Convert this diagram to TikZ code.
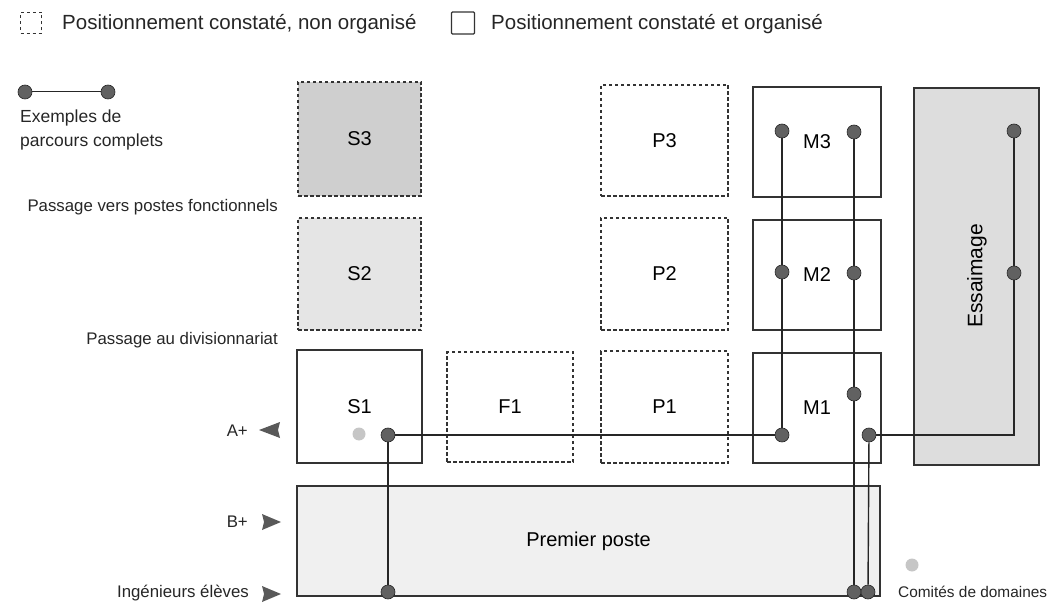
\documentclass[tikz,border=0pt]{standalone}
\usepackage{fontspec}
\setmainfont{Liberation Sans}
\begin{document}
\begin{tikzpicture}[x=1pt,y=-1pt,
  boxsolid/.style={draw=black!80, line width=1.1pt, inner sep=0pt, font=\fontsize{20}{24}\selectfont},
  boxdash/.style={boxsolid, dash pattern=on 3.5pt off 2.5pt},
  dot/.style={circle, draw=black!85, line width=0.6pt, fill=black!62, minimum size=14pt, inner sep=0pt},
  ldot/.style={circle, fill=gray!45, minimum size=13pt, inner sep=0pt},
  path/.style={draw=black!85, line width=1.4pt},
  lbl/.style={inner sep=0pt, font=\fontsize{16.8}{20}\selectfont, text=black!85},
  leg/.style={inner sep=0pt, anchor=west, font=\fontsize{20.5}{24}\selectfont, text=black!85},
  tri/.style={fill=black!65}
]
\useasboundingbox (0,0) rectangle (1050,604);

% legend
\node[draw=black!80, line width=1pt, dash pattern=on 3pt off 3pt, minimum width=21pt, minimum height=21pt, inner sep=0pt] (lgd) at (31,23) {};
\node[leg] (lgdt) at (62,24) {Positionnement constaté, non organisé};
\node[draw=black!80, line width=1.1pt, minimum width=23pt, minimum height=22pt, inner sep=0pt, rounded corners=1pt] (lgs) at (463,23) {};
\node[leg] (lgst) at (491,24) {Positionnement constaté et organisé};

% example path legend
\node[dot] (ex1) at (25,92) {};
\node[dot] (ex2) at (108,92) {};
\draw[path, line width=1pt] (ex1) -- (ex2);
\node[lbl, anchor=west, font=\fontsize{17.5}{21}\selectfont] (exa) at (20,118) {Exemples de};
\node[lbl, anchor=west, font=\fontsize{17.5}{21}\selectfont] (exb) at (20,142) {parcours complets};

\node[lbl, anchor=east] (pvf) at (278,207) {Passage vers postes fonctionnels};
\node[lbl, anchor=east] (pad) at (278,340) {Passage au divisionnariat};

% boxes
\node[boxdash, fill=gray!38, minimum width=123pt, minimum height=114pt] (S3) at (359.5,139) {S3};
\node[boxdash, fill=gray!20, minimum width=123pt, minimum height=112pt] (S2) at (359.5,274) {S2};
\node[boxsolid, minimum width=125pt, minimum height=113pt] (S1) at (359.5,406.5) {S1};
\node[boxdash, minimum width=126pt, minimum height=110pt] (F1) at (510,407) {F1};
\node[boxdash, minimum width=127pt, minimum height=111pt] (P3) at (664.5,140.5) {P3};
\node[boxdash, minimum width=127pt, minimum height=112pt] (P2) at (664.5,274) {P2};
\node[boxdash, minimum width=127pt, minimum height=112pt] (P1) at (664.5,407) {P1};
\node[boxsolid, minimum width=128pt, minimum height=110pt] (M3) at (817,142) {M3};
\node[boxsolid, minimum width=128pt, minimum height=110pt] (M2) at (817,275) {M2};
\node[boxsolid, minimum width=128pt, minimum height=110pt] (M1) at (817,408) {M1};
\node[boxsolid, fill=gray!27, minimum width=125pt, minimum height=377pt] (ESS) at (976.5,276.5) {};
\node[inner sep=0pt, rotate=90, font=\fontsize{21}{24}\selectfont] (esst) at (977,276) {Essaimage};
\node[boxsolid, fill=gray!12, minimum width=583pt, minimum height=110pt] (PP) at (588.5,541) {Premier poste};

% side labels with triangles
\node[lbl, anchor=east] (ap) at (248,431) {A+};
\fill[tri] (259,430) -- (280,422) -- (278,430) -- (280,438) -- cycle;
\node[lbl, anchor=east] (bp) at (248,522) {B+};
\fill[tri] (262,514) -- (281,522) -- (262,530) -- (264,522) -- cycle;
\node[lbl, anchor=east] (ie) at (249,593) {Ingénieurs élèves};
\fill[tri] (262,586) -- (281,594) -- (262,602) -- (264,594) -- cycle;

% comites
\node[ldot] (cd) at (912,565) {};
\node[lbl, anchor=west, font=\fontsize{15.4}{18}\selectfont] (cdt) at (898,592) {Comités de domaines};

% path dots
\node[ldot] (s1l) at (359,434) {};
\node[dot] (s1d) at (388,435) {};
\node[dot] (m1l) at (782,435) {};
\node[dot] (m2l) at (782,272) {};
\node[dot] (m3l) at (782,131) {};
\node[dot] (m3r) at (854,132) {};
\node[dot] (m2r) at (854,273) {};
\node[dot] (m1u) at (854,394) {};
\node[dot] (m1r) at (869,435) {};
\node[dot] (e2) at (1014,273) {};
\node[dot] (e1) at (1014,131) {};
\node[dot] (b1) at (388,592) {};
\node[dot] (b2) at (854,592) {};
\node[dot] (b3) at (868,592) {};

% connectors
\draw[path] (s1d) -- (m1l);
\draw[path] (s1d) -- (b1);
\draw[path] (m1l) -- (m2l);
\draw[path] (m2l) -- (m3l);
\draw[path] (m3r) -- (m2r);
\draw[path] (m2r) -- (m1u);
\draw[path] (m1u) -- (b2);
\draw[path] (m1r) -- (b3);
\draw[path] (m1r) -| (e2);
\draw[path] (e2) -- (e1);
\end{tikzpicture}
\end{document}
